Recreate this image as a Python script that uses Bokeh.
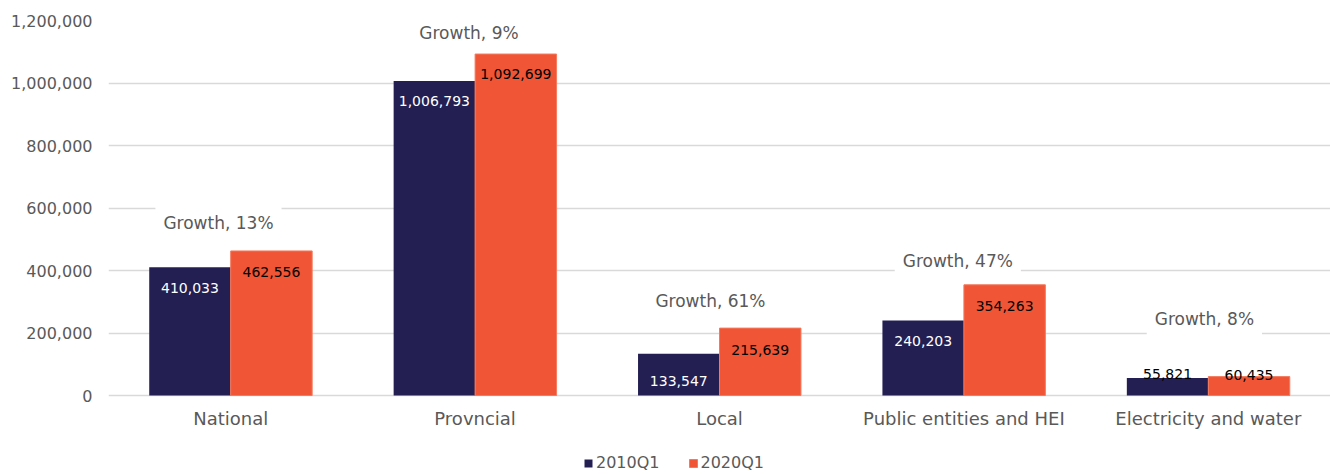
from bokeh.plotting import figure
from bokeh.models import (Range1d, FixedTicker, NumeralTickFormatter, Legend, LegendItem,
                          ColumnDataSource, Label)
from bokeh.core.properties import value
from bokeh.embed import file_html
from bokeh.resources import INLINE

categories = ["National", "Provncial", "Local", "Public entities and HEI", "Electricity and water"]
series_names = ["2010Q1", "2020Q1"]
values_2010 = [410033, 1006793, 133547, 240203, 55821]
values_2020 = [462556, 1092699, 215639, 354263, 60435]
y_ticks = [0, 200000, 400000, 600000, 800000, 1000000, 1200000]

# annotation placement (layout only)
growth_label_y = [553600, 1161600, 304000, 432000, 246400]
growth_label_dx = [-0.05, -0.025, -0.037, -0.025, -0.016]
lbl_off_2010 = [21, 20, 27, 21, -4]
lbl_off_2020 = [21, 20, 22, 21, -2]
lbl_col_2010 = ["white", "white", "white", "white", "black"]
lbl_col_2020 = ["black", "black", "black", "black", "black"]

DARK = "#231F52"
ORANGE = "#F05535"
GRAY = "#595959"
FONT = "DejaVu Sans"

# frame spans from the top gridline down to the figure bottom so the legend can sit inside it
p = figure(width=1330, height=474, output_backend="svg", toolbar_location=None,
           x_range=Range1d(-0.5, 4.5), y_range=Range1d(-252800, 1200000),
           x_axis_location=None,
           min_border_left=108, min_border_right=0, min_border_top=20, min_border_bottom=0)
p.outline_line_color = None
p.background_fill_color = "white"

idx = list(range(len(categories)))
bw = 1 / 3
src1 = ColumnDataSource(dict(x=[i - bw / 2 for i in idx], top=values_2010,
                             lab=[f"{v:,}" for v in values_2010], off=lbl_off_2010, col=lbl_col_2010))
src2 = ColumnDataSource(dict(x=[i + bw / 2 for i in idx], top=values_2020,
                             lab=[f"{v:,}" for v in values_2020], off=lbl_off_2020, col=lbl_col_2020))

r1 = p.vbar(x="x", top="top", bottom=0, width=bw, source=src1, fill_color=DARK, line_color=None)
r2 = p.vbar(x="x", top="top", bottom=0, width=bw, source=src2, fill_color=ORANGE,
            line_color="#F47A5E", line_width=1)

for s in (src1, src2):
    p.text(x="x", y="top", text="lab", y_offset="off", text_color="col", source=s,
           text_align="center", text_baseline="middle", text_font_size="14px",
           text_font=value(FONT))

# category labels under the baseline
cat_src = ColumnDataSource(dict(x=idx, y=[0] * len(idx), t=categories))
p.text(x="x", y="y", text="t", source=cat_src, y_offset=23, text_align="center",
       text_baseline="middle", text_font_size="18px", text_font=value(FONT), text_color=GRAY)

for i in idx:
    g = round((values_2020[i] / values_2010[i] - 1) * 100)
    lab = Label(x=i + growth_label_dx[i], y=growth_label_y[i], text=f"Growth, {g}%",
                text_align="center", text_baseline="middle", text_font_size="17px",
                text_font=FONT, text_color=GRAY, background_fill_color="white",
                padding=8)
    p.add_layout(lab)

# y axis
p.yaxis.ticker = FixedTicker(ticks=y_ticks)
p.yaxis.formatter = NumeralTickFormatter(format="0,0")
p.yaxis.axis_line_color = None
p.yaxis.major_tick_line_color = None
p.yaxis.major_tick_out = 0
p.yaxis.major_tick_in = 0
p.yaxis.minor_tick_line_color = None
p.yaxis.major_label_text_font_size = "16px"
p.yaxis.major_label_text_font = FONT
p.yaxis.major_label_text_color = GRAY
p.yaxis.major_label_standoff = 16

p.xgrid.grid_line_color = None
p.ygrid.grid_line_color = "#D9D9D9"
p.ygrid.grid_line_width = 1.5

legend = Legend(items=[LegendItem(label=series_names[0], renderers=[r1]),
                       LegendItem(label=series_names[1], renderers=[r2])],
                orientation="horizontal", location=(475, 2),
                label_text_font_size="16px", label_text_font=FONT, label_text_color=GRAY,
                glyph_width=10, glyph_height=10, spacing=28, label_standoff=3,
                border_line_color=None, background_fill_alpha=0, padding=0, margin=0)
p.add_layout(legend)

open("out.html", "w").write(file_html(p, INLINE))
